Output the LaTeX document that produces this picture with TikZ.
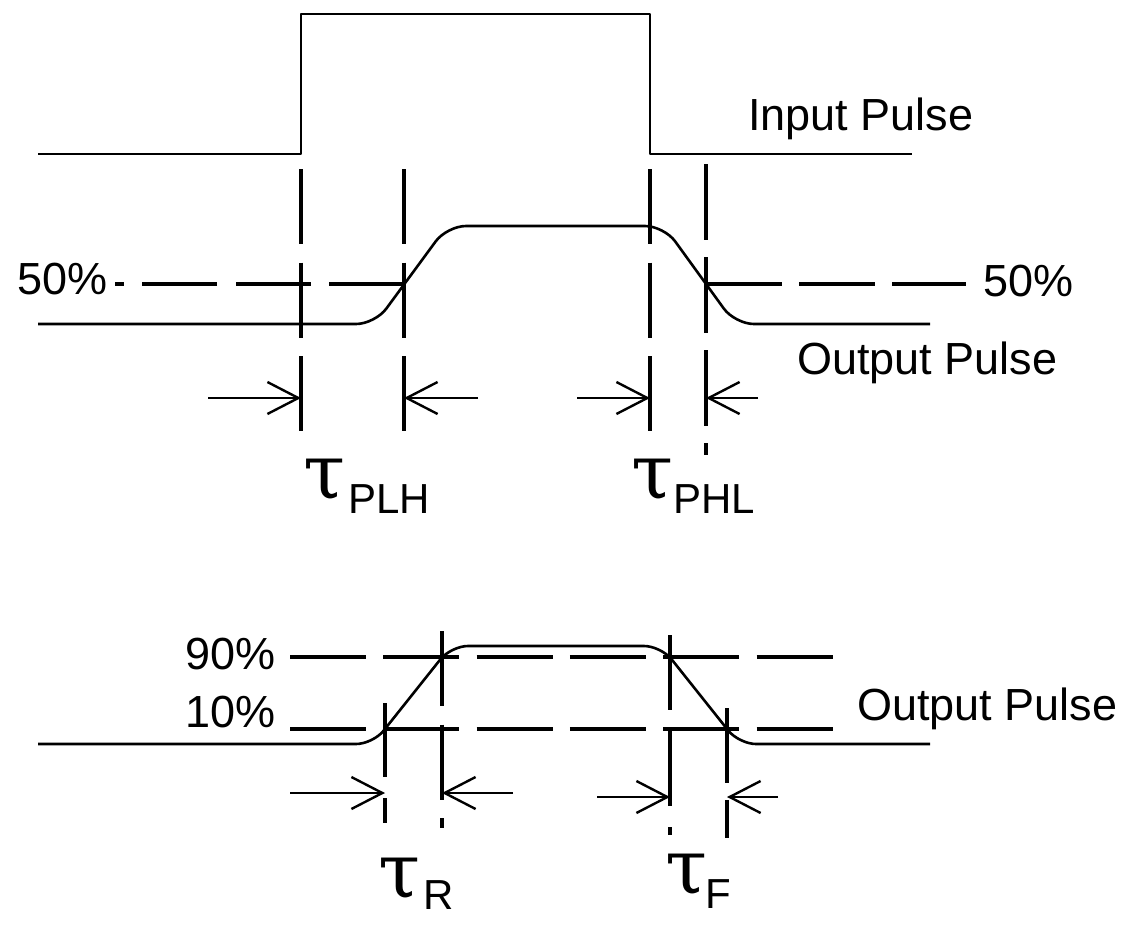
\documentclass[tikz,border=0pt]{standalone}
\usepackage{fontspec}
\setmainfont{Liberation Sans}
\newfontfamily\taufont{DejaVu Serif}
\usepackage{tikz}
\usetikzlibrary{arrows.meta,calc}
\tikzset{
  wave/.style    ={line width=2.6pt, line join=round},
  guide/.style   ={line width=4.8pt, dash pattern=on 75pt off 18.5pt},
  dimarr/.style  ={-{Straight Barb[length=31pt,width=32pt]}, line width=2.4pt},
  lbl/.style     ={font=\fontsize{45}{50}\selectfont, inner sep=0pt, anchor=base west},
  sublbl/.style  ={font=\fontsize{42}{48}\selectfont, inner sep=0pt, anchor=base west},
  taulbl/.style  ={font=\taufont\fontsize{76}{90}\selectfont, inner sep=0pt, anchor=base west},
}

\begin{document}
\begin{tikzpicture}[x=1pt,y=-1pt]
\useasboundingbox (0,0) rectangle (1141,932);

% input pulse
\draw[wave] (38,154) -- (301,154) -- (301,14) -- (650,14) -- (650,154) -- (912,154);
\node[lbl] (inp) at (748,130) {Input Pulse};

% output pulse, propagation delays
\draw[wave, rounded corners=19pt] (38,324) -- (375,324) -- (447,226) -- (664,226) -- (735,324) -- (930,324);
\draw[guide] (301,169) -- (301,431);
\draw[guide] (404,169) -- (404,431);
\draw[guide] (650,169) -- (650,431);
\draw[guide, dash pattern=on 76pt off 17pt] (706,164) -- (706,455);
\draw[guide] (404,284) -- (115,284);
\draw[guide, dash pattern=on 76pt off 17pt] (706,284) -- (966,284);
\draw[dimarr] (208,398) -- (301,398);
\draw[dimarr] (478,398) -- (404,398);
\draw[dimarr] (577,398) -- (650,398);
\draw[dimarr] (758,398) -- (706,398);
\node[lbl] (outa) at (797,374) {Output Pulse};
\node[lbl] (lvl50l) at (17,294) {50\%};
\node[lbl] (lvl50r) at (983,296) {50\%};
\node[taulbl] (tplh) at (303,498) {τ};
\node[sublbl] (splh) at (348,513) {PLH};
\node[taulbl] (tphl) at (631,498) {τ};
\node[sublbl] (sphl) at (673,513) {PHL};

% output pulse, rise and fall times
\draw[wave, rounded corners=17pt] (38,744) -- (373,744) -- (451,646) -- (661,646) -- (739,744) -- (930,744);
\draw[guide, dash pattern=on 76pt off 17.3pt] (290,657) -- (833,657);
\draw[guide, dash pattern=on 76pt off 17.3pt] (290,729) -- (833,729);
\draw[guide, dash pattern=on 74pt off 21pt] (385,703) -- (385,823);
\draw[guide] (442,631) -- (442,828);
\draw[guide, dash pattern=on 75pt off 21pt] (670,635) -- (670,835);
\draw[guide, dash pattern=on 75pt off 17pt] (727,708) -- (727,838);
\draw[dimarr] (290,793) -- (385,793);
\draw[dimarr] (513,793) -- (442,793);
\draw[dimarr] (597,797) -- (670,797);
\draw[dimarr] (778,797) -- (727,797);
\node[lbl] (outb) at (857,720) {Output Pulse};
\node[lbl] (lvl90) at (185,669) {90\%};
\node[lbl] (lvl10) at (185,727) {10\%};
\node[taulbl] (tr) at (378,897) {τ};
\node[sublbl] (sr) at (423,909) {R};
\node[taulbl] (tf) at (665,893) {τ};
\node[sublbl] (sf) at (705,908) {F};
\end{tikzpicture}
\end{document}
